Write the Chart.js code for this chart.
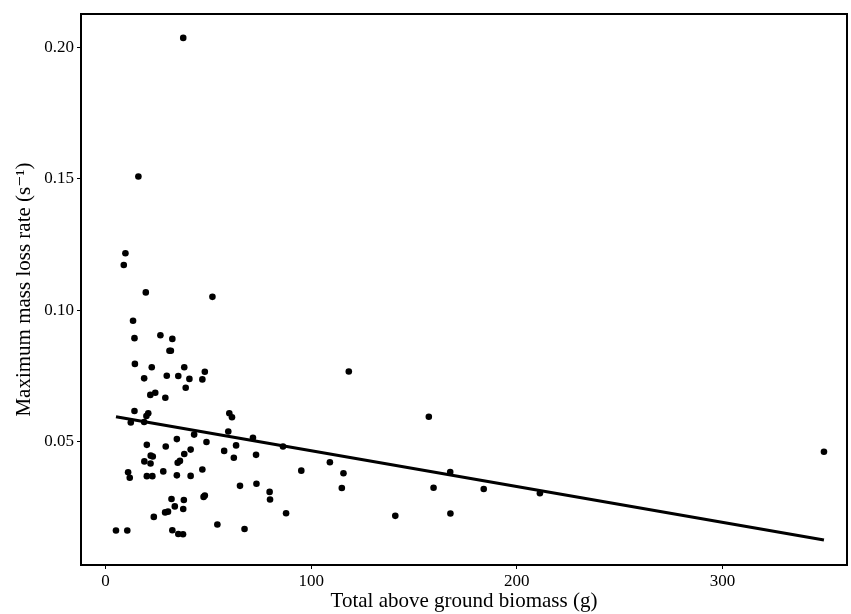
<!DOCTYPE html>
<html>
<head>
<meta charset="utf-8">
<script src="https://cdn.jsdelivr.net/npm/chart.js@4"></script>
<style>
  html, body { margin: 0; padding: 0; background: #fff; }
  #wrap { width: 851px; height: 614px; }
</style>
</head>
<body>
<div id="wrap"><canvas id="chart" width="851" height="614"></canvas></div>
<script>
(function () {
  "use strict";

  // biomass (g) and max mass loss rate (s^-1)
  var biomass = [37.8, 16.0, 9.7, 8.9, 19.6, 52.0, 13.4, 26.7, 32.5, 14.1,
    31.1, 31.8, 14.3, 22.5, 38.3, 48.3, 18.8, 29.8, 35.4, 40.8,
    47.1, 39.0, 21.8, 24.2, 29.1, 14.1, 20.8, 19.9, 12.3, 18.8,
    60.2, 61.5, 59.7, 43.1, 71.7, 34.7, 49.1, 86.3, 20.1, 29.3,
    63.5, 41.4, 57.7, 38.3, 22.0, 23.0, 73.2, 62.4, 18.9, 21.9,
    36.2, 35.1, 47.1, 28.1, 11.0, 11.8, 20.1, 22.8, 34.7, 41.4,
    95.2, 65.4, 73.4, 79.8, 80.0, 48.3, 47.7, 32.1, 38.1, 33.7,
    37.8, 29.0, 30.4, 23.5, 87.8, 54.4, 67.6, 5.1, 10.6, 32.5,
    35.4, 37.7, 118.3, 157.2, 109.1, 115.7, 114.9, 167.6, 159.5, 183.9,
    211.2, 140.9, 167.7, 349.3];
  var lossRate = [0.2036, 0.1509, 0.1217, 0.1172, 0.1068, 0.1051, 0.0960, 0.0905, 0.0891, 0.0894,
    0.0846, 0.0846, 0.0796, 0.0783, 0.0783, 0.0766, 0.0741, 0.0751, 0.0750, 0.0739,
    0.0737, 0.0705, 0.0678, 0.0686, 0.0667, 0.0617, 0.0608, 0.0598, 0.0573, 0.0575,
    0.0608, 0.0593, 0.0539, 0.0527, 0.0515, 0.0510, 0.0499, 0.0482, 0.0488, 0.0482,
    0.0486, 0.0470, 0.0465, 0.0453, 0.0447, 0.0444, 0.0450, 0.0439, 0.0425, 0.0417,
    0.0427, 0.0420, 0.0394, 0.0387, 0.0384, 0.0363, 0.0369, 0.0369, 0.0372, 0.0370,
    0.0390, 0.0332, 0.0340, 0.0309, 0.0280, 0.0295, 0.0290, 0.0282, 0.0278, 0.0254,
    0.0244, 0.0231, 0.0234, 0.0214, 0.0228, 0.0185, 0.0168, 0.0162, 0.0162, 0.0163,
    0.0149, 0.0148, 0.0767, 0.0595, 0.0422, 0.0380, 0.0324, 0.0385, 0.0325, 0.0320,
    0.0304, 0.0218, 0.0227, 0.0462];

  // fitted line end points
  var fitX = [5.1, 349.3];
  var fitY = [0.0595, 0.0126];

  var xTicks = [0, 100, 200, 300];
  var yTicks = [0.05, 0.10, 0.15, 0.20];

  var INK = "#000000";
  var SERIF = "'Liberation Serif', 'DejaVu Serif', 'Times New Roman', serif";

  function pairs(xs, ys) { return xs.map(function (x, i) { return { x: x, y: ys[i] }; }); }
  function fixTicks(list) { return function (sc) { sc.ticks = list.map(function (v) { return { value: v }; }); }; }

  var panelBox = {
    id: "panelBox",
    afterDraw: function (c) {
      var a = c.chartArea, ctx = c.ctx;
      ctx.save();
      ctx.strokeStyle = INK; ctx.lineWidth = 2;
      ctx.strokeRect(a.left, a.top, a.right - a.left, a.bottom - a.top);
      ctx.restore();
    }
  };

  new Chart(document.getElementById("chart"), {
    type: "scatter",
    data: {
      datasets: [
        { type: "line", data: pairs(fitX, fitY), borderColor: INK, borderWidth: 3.2,
          pointRadius: 0, fill: false, order: 1 },
        { data: pairs(biomass, lossRate), backgroundColor: INK, borderColor: INK,
          pointRadius: 3.3, borderWidth: 0, order: 2 }
      ]
    },
    options: {
      responsive: false, animation: false,
      layout: { padding: { top: 14, right: 2, left: 0, bottom: 0 } },
      plugins: { legend: { display: false }, tooltip: { enabled: false } },
      scales: {
        x: {
          type: "linear", min: -11.9, max: 360.5,
          afterBuildTicks: fixTicks(xTicks),
          afterFit: function (s) { s.height = 49; },
          grid: { drawOnChartArea: false, drawTicks: true, tickLength: 4, color: INK, lineWidth: 1 },
          border: { display: false },
          ticks: { color: INK, padding: 2, font: { family: SERIF, size: 17 } },
          title: { display: true, text: "Total above ground biomass (g)", color: INK,
            font: { family: SERIF, size: 21 }, padding: { top: 0, bottom: 0 } }
        },
        y: {
          type: "linear", min: 0.0031, max: 0.2127,
          afterBuildTicks: fixTicks(yTicks),
          afterFit: function (s) { s.width = 81; },
          grid: { drawOnChartArea: false, drawTicks: true, tickLength: 4, color: INK, lineWidth: 1 },
          border: { display: false },
          ticks: { color: INK, padding: 3, font: { family: SERIF, size: 17 },
            callback: function (v) { return v.toFixed(2); } },
          title: { display: true, text: "Maximum mass loss rate (s\u207B\u00B9)", color: INK,
            font: { family: SERIF, size: 21 }, padding: { top: 12, bottom: 0 } }
        }
      }
    },
    plugins: [panelBox]
  });
})();
</script>
</body>
</html>
